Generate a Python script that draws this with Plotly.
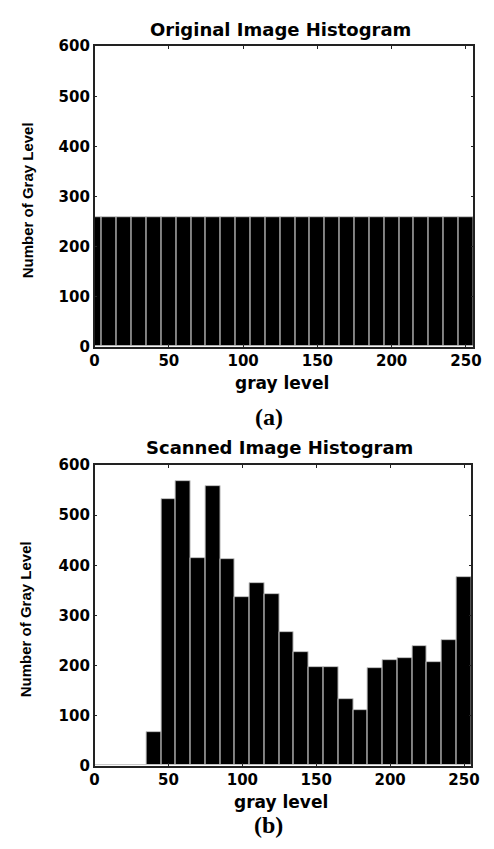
import plotly.graph_objects as go

# ---- data ----
gray_level_centers = [0, 10, 20, 30, 40, 50, 60, 70, 80, 90, 100, 110, 120,
                      130, 140, 150, 160, 170, 180, 190, 200, 210, 220, 230, 240, 250]
original_counts = [258, 258, 258, 258, 258, 258, 258, 258, 258, 258, 258, 258, 258,
                   258, 258, 258, 258, 258, 258, 258, 258, 258, 258, 258, 258, 258]
scanned_counts = [0, 0, 0, 0, 67, 533, 568, 415, 559, 412, 336, 364, 343,
                  266, 227, 196, 196, 132, 111, 194, 210, 215, 239, 206, 250, 376]
x_ticks = [0, 50, 100, 150, 200, 250]
y_ticks = [0, 100, 200, 300, 400, 500, 600]

W, H = 494, 849
def fx(px):
    return px / W
def fy(py):
    return 1 - py / H

fig = go.Figure()
bar_style = dict(marker=dict(color="black", line=dict(color="#c8c8c8", width=1)),
                 width=10, showlegend=False, hoverinfo="skip")
fig.add_trace(go.Bar(x=gray_level_centers, y=original_counts, xaxis="x", yaxis="y", **bar_style))
fig.add_trace(go.Bar(x=gray_level_centers, y=scanned_counts, xaxis="x2", yaxis="y2", **bar_style))

tick_font = dict(family="DejaVu Sans", size=15, color="black", weight="bold")
axis_common = dict(showline=True, linecolor="#222", linewidth=1.5, mirror="ticks",
                   ticks="inside", ticklen=3, tickcolor="#222", showgrid=False,
                   zeroline=False, tickfont=tick_font, fixedrange=True,
                   ticklabeloverflow="allow")

fig.update_layout(
    width=W, height=H, paper_bgcolor="white", plot_bgcolor="white",
    margin=dict(l=0, r=0, t=0, b=0), bargap=0,
    xaxis=dict(domain=[fx(92), fx(481)], anchor="y", range=[0, 255], tickvals=x_ticks, **axis_common),
    yaxis=dict(domain=[fy(345), fy(38)], anchor="x", range=[0, 600], tickvals=y_ticks, **axis_common),
    xaxis2=dict(domain=[fx(92), fx(479)], anchor="y2", range=[0, 255], tickvals=x_ticks, **axis_common),
    yaxis2=dict(domain=[fy(773), fy(466)], anchor="x2", range=[0, 600], tickvals=y_ticks, **axis_common),
)

title_font = dict(family="DejaVu Sans", size=18, color="black", weight="bold")
xlab_font = dict(family="DejaVu Sans", size=17, color="black", weight="bold")
ylab_font = dict(family="Liberation Sans Narrow, Liberation Sans", size=15, color="black", weight="bold")
cap_font = dict(family="Liberation Serif", size=24, color="black", weight="bold")

anns = [
    ("Original Image Histogram", 283, 21, title_font, 0),
    ("gray level", 284, 382, xlab_font, 0),
    ("Number of Gray Level", 23, 195, ylab_font, -90),
    ("(a)", 271, 417, cap_font, 0),
    ("Scanned Image Histogram", 282, 448, title_font, 0),
    ("gray level", 283, 810, xlab_font, 0),
    ("Number of Gray Level", 21, 623, ylab_font, -90),
    ("(b)", 271, 834, cap_font, 0),
]
for text, px, py, font, ang in anns:
    fig.add_annotation(text=text, x=fx(px), y=fy(py), xref="paper", yref="paper",
                       xanchor="center", yanchor="middle", showarrow=False,
                       font=font, textangle=ang)

fig.write_html("out.html", config={"displayModeBar": False},
               post_script="document.body.style.margin='0';document.documentElement.style.overflow='hidden';")
